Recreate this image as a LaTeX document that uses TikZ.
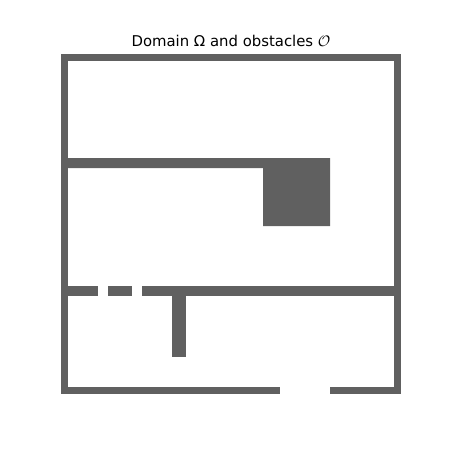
\documentclass[tikz,border=0pt]{standalone}
\usepackage{fontspec}
\setmainfont{DejaVu Sans}
\usepackage{tikz}
\definecolor{wallgray}{HTML}{606060}
\tikzset{wall/.style={fill=wallgray,draw=none}}

\begin{document}
\begin{tikzpicture}[x=0.01in,y=-0.01in]
		\useasboundingbox (0,0) rectangle (450,450);
		% title
		\node[anchor=base,inner sep=0pt] (title) at (231,46) {\fontsize{10.7bp}{13bp}\selectfont Domain Ω and obstacles $\mathcal{O}$};
		% outer boundary, with the opening at the bottom
		\fill[wall] (61,54) rectangle (401,61);
		\fill[wall] (61,54) rectangle (68,394);
		\fill[wall] (394,54) rectangle (401,394);
		\foreach \xa/\xb in {61/280,330/401} {
			\fill[wall] (\xa,387) rectangle (\xb,394);
		}
		% upper wall and block
		\fill[wall] (68,158) -- (330,158) -- (330,226) -- (263,226) -- (263,168) -- (68,168) -- cycle;
		% lower wall with its gaps
		\foreach \xa/\xb in {68/98,108/132,142/394} {
			\fill[wall] (\xa,286) rectangle (\xb,296);
		}
		% stem under the lower wall
		\fill[wall] (172,296) rectangle (186,357);
	\end{tikzpicture}
\end{document}
